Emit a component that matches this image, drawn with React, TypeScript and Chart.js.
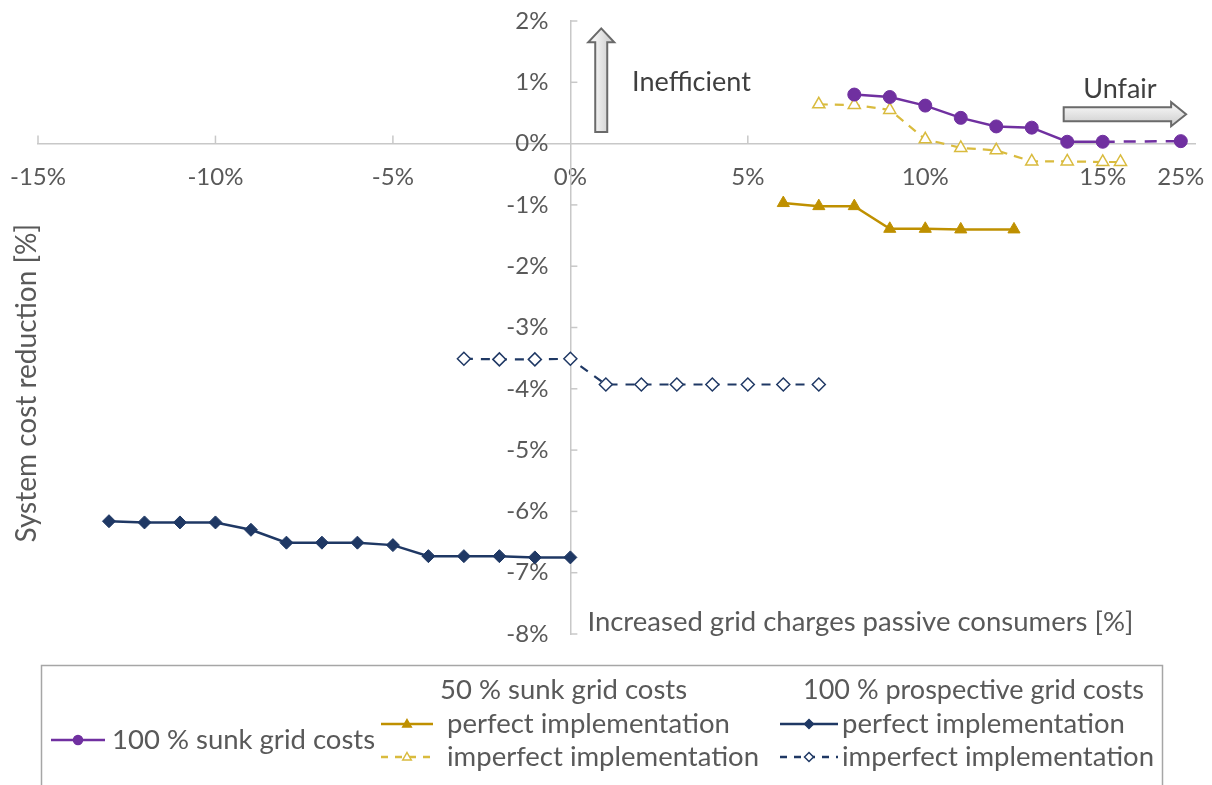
import React, { useEffect, useRef } from 'react';
import { Chart, registerables } from 'chart.js';

Chart.register(...registerables);

const FONT = 'Lato, "Open Sans", sans-serif';
const TEXT = '#595959';

// ---- data ----
const sunkX = [8, 9, 10, 11, 12, 13, 14, 15, 25];
const sunkY = [0.8, 0.76, 0.62, 0.42, 0.28, 0.26, 0.03, 0.03, 0.04];

const halfPerfectX = [6, 7, 8, 9, 10, 11, 12.5];
const halfPerfectY = [-0.97, -1.02, -1.02, -1.39, -1.39, -1.4, -1.4];

const halfImperfectX = [7, 8, 9, 10, 11, 12, 13, 14, 15, 15.5];
const halfImperfectY = [0.64, 0.63, 0.55, 0.07, -0.07, -0.11, -0.29, -0.29, -0.3, -0.3];

const prospPerfectX = [-13, -12, -11, -10, -9, -8, -7, -6, -5, -4, -3, -2, -1, 0];
const prospPerfectY = [-6.16, -6.18, -6.18, -6.18, -6.3, -6.51, -6.51, -6.51, -6.55, -6.73, -6.73, -6.73, -6.75, -6.75];

const prospImperfectX = [-3, -2, -1, 0, 1, 2, 3, 4, 5, 6, 7];
const prospImperfectY = [-3.51, -3.52, -3.52, -3.51, -3.93, -3.93, -3.93, -3.93, -3.93, -3.93, -3.93];

const xTickValues = [-15, -10, -5, 0, 5, 10, 15, 25];
const yMin = -8;
const yMax = 2;

const groupHeaders = ['50 % sunk grid costs', '100 % prospective grid costs'];

// axis break: values above 16 are compressed into the last part of the axis
const BREAK = 16;
const BREAK_FACTOR = 1.2 / 9;
const mapX = (v: number) => (v <= BREAK ? v : BREAK + (v - BREAK) * BREAK_FACTOR);
const X_MIN = -15;
const X_MAX = 17.6;

const PURPLE = '#7030A0';
const GOLD = '#BF9000';
const GOLD_LIGHT = '#D9BB3E';
const NAVY = '#1F3864';

const Y_LABEL_GAP = 22;

const pts = (xs: number[], ys: number[]) => xs.map((x, i) => ({ x: mapX(x), y: ys[i] }));

function drawMarker(ctx: CanvasRenderingContext2D, style: string, x: number, y: number, r: number, fill: string, stroke: string, lw: number) {
  ctx.save();
  ctx.beginPath();
  if (style === 'circle') {
    ctx.arc(x, y, r, 0, Math.PI * 2);
  } else if (style === 'triangle') {
    ctx.moveTo(x, y - r);
    ctx.lineTo(x + r * 0.95, y + r * 0.65);
    ctx.lineTo(x - r * 0.95, y + r * 0.65);
    ctx.closePath();
  } else {
    ctx.moveTo(x, y - r);
    ctx.lineTo(x + r, y);
    ctx.lineTo(x, y + r);
    ctx.lineTo(x - r, y);
    ctx.closePath();
  }
  ctx.fillStyle = fill;
  ctx.fill();
  ctx.setLineDash([]);
  ctx.strokeStyle = stroke;
  ctx.lineWidth = lw;
  ctx.stroke();
  ctx.restore();
}

const zeroPadding = (scale: any) => {
  scale.paddingLeft = 0;
  scale.paddingRight = 0;
  scale.paddingTop = 0;
  scale.paddingBottom = 0;
};

// shift the y tick labels away from the centred axis line
const shifted = new WeakSet<object>();
const yLabelGapPlugin = {
  id: 'yLabelGap',
  beforeDraw(chart: any) {
    const ys = chart.scales.y;
    if (!ys) return;
    const items = ys.getLabelItems(chart.chartArea);
    items.forEach((it: any) => {
      if (shifted.has(it)) return;
      it.options.translation[0] -= Y_LABEL_GAP;
      shifted.add(it);
    });
  },
};

const innerTicksPlugin = {
  id: 'innerTicks',
  beforeDatasetsDraw(chart: any) {
    const { ctx, scales } = chart;
    const xs = scales.x;
    const ys = scales.y;
    const x0 = xs.getPixelForValue(0);
    const y0 = ys.getPixelForValue(0);
    ctx.save();
    ctx.strokeStyle = '#C8C8C8';
    ctx.lineWidth = 1.5;
    xs.ticks.forEach((t: any) => {
      if (Math.abs(t.value) < 1e-9) return;
      const px = xs.getPixelForValue(t.value);
      ctx.beginPath();
      ctx.moveTo(px, y0);
      ctx.lineTo(px, y0 - 8);
      ctx.stroke();
    });
    ys.ticks.forEach((t: any) => {
      if (Math.abs(t.value) < 1e-9) return;
      const py = ys.getPixelForValue(t.value);
      ctx.beginPath();
      ctx.moveTo(x0, py);
      ctx.lineTo(x0 + 7, py);
      ctx.stroke();
    });
    ctx.restore();
  },
};

function arrowPath(ctx: CanvasRenderingContext2D, dir: 'up' | 'right', tipX: number, tipY: number, len: number, headLen: number, headHalf: number, shaftHalf: number) {
  ctx.beginPath();
  if (dir === 'up') {
    ctx.moveTo(tipX, tipY);
    ctx.lineTo(tipX + headHalf, tipY + headLen);
    ctx.lineTo(tipX + shaftHalf, tipY + headLen);
    ctx.lineTo(tipX + shaftHalf, tipY + len);
    ctx.lineTo(tipX - shaftHalf, tipY + len);
    ctx.lineTo(tipX - shaftHalf, tipY + headLen);
    ctx.lineTo(tipX - headHalf, tipY + headLen);
  } else {
    ctx.moveTo(tipX, tipY);
    ctx.lineTo(tipX - headLen, tipY - headHalf);
    ctx.lineTo(tipX - headLen, tipY - shaftHalf);
    ctx.lineTo(tipX - len, tipY - shaftHalf);
    ctx.lineTo(tipX - len, tipY + shaftHalf);
    ctx.lineTo(tipX - headLen, tipY + shaftHalf);
    ctx.lineTo(tipX - headLen, tipY + headHalf);
  }
  ctx.closePath();
}

const annotationsPlugin = {
  id: 'annotations',
  afterDraw(chart: any) {
    const { ctx, scales } = chart;
    const xs = scales.x;
    const ys = scales.y;
    ctx.save();

    // arrows
    ctx.strokeStyle = '#6A6A6A';
    ctx.lineWidth = 2;
    ctx.setLineDash([]);
    const upX = xs.getPixelForValue(0.87);
    const upTop = ys.getPixelForValue(1.88);
    const upBottom = ys.getPixelForValue(0.19);
    const gUp = ctx.createLinearGradient(upX - 6, 0, upX + 6, 0);
    gUp.addColorStop(0, '#F2F2F2');
    gUp.addColorStop(1, '#D6D6D6');
    ctx.fillStyle = gUp;
    arrowPath(ctx, 'up', upX, upTop, upBottom - upTop, 14, 13, 6);
    ctx.fill();
    ctx.stroke();

    const rTip = xs.getPixelForValue(17.35);
    const rStart = xs.getPixelForValue(13.9);
    const rY = ys.getPixelForValue(0.48);
    const gR = ctx.createLinearGradient(0, rY - 7, 0, rY + 7);
    gR.addColorStop(0, '#F2F2F2');
    gR.addColorStop(1, '#D6D6D6');
    ctx.fillStyle = gR;
    arrowPath(ctx, 'right', rTip, rY, rTip - rStart, 15, 12, 7);
    ctx.fill();
    ctx.stroke();

    // annotation texts
    ctx.fillStyle = '#3F3F3F';
    ctx.font = `27px ${FONT}`;
    ctx.textAlign = 'left';
    ctx.textBaseline = 'alphabetic';
    ctx.fillText('Inefficient', xs.getPixelForValue(1.74), ys.getPixelForValue(0.86));
    ctx.fillText('Unfair', xs.getPixelForValue(14.45), ys.getPixelForValue(0.74));

    // axis titles
    ctx.fillStyle = TEXT;
    ctx.font = `27.5px ${FONT}`;
    ctx.textBaseline = 'middle';
    ctx.fillText('Increased grid charges passive consumers [%]', xs.getPixelForValue(0.48), ys.getPixelForValue(-7.8));
    ctx.save();
    ctx.translate(27, ys.getPixelForValue(-3.91));
    ctx.rotate(-Math.PI / 2);
    ctx.font = `28px ${FONT}`;
    ctx.textAlign = 'center';
    ctx.textBaseline = 'middle';
    ctx.fillText('System cost reduction [%]', 0, 0);
    ctx.restore();

    // legend box
    ctx.strokeStyle = '#A6A6A6';
    ctx.lineWidth = 1.5;
    ctx.strokeRect(41.5, 665.5, 1121, 160);

    const legendFont = `27.5px ${FONT}`;
    ctx.font = legendFont;
    ctx.fillStyle = TEXT;
    ctx.textBaseline = 'middle';
    ctx.textAlign = 'left';
    ctx.fillText(groupHeaders[0], 440, 690);
    ctx.font = `27px ${FONT}`;
    ctx.fillText(groupHeaders[1], 803, 690);

    const items = [
      { ds: 0, x1: 51, x2: 105, tx: 112, y: 740 },
      { ds: 1, x1: 381, x2: 433, tx: 447, y: 724 },
      { ds: 2, x1: 381, x2: 433, tx: 447, y: 757 },
      { ds: 3, x1: 780, x2: 838, tx: 842, y: 724 },
      { ds: 4, x1: 780, x2: 838, tx: 842, y: 757 },
    ];
    items.forEach((it) => {
      const d = chart.data.datasets[it.ds];
      ctx.save();
      ctx.strokeStyle = d.borderColor;
      ctx.lineWidth = 2.5;
      ctx.setLineDash(d.borderDash && d.borderDash.length ? [7, 7] : []);
      ctx.beginPath();
      ctx.moveTo(it.x1, it.y);
      ctx.lineTo(it.x2, it.y);
      ctx.stroke();
      ctx.restore();
      drawMarker(ctx, d.pointStyle, (it.x1 + it.x2) / 2, it.y, 4.5, d.pointBackgroundColor, d.pointBorderColor, 1.5);
      ctx.fillStyle = TEXT;
      ctx.font = legendFont;
      ctx.fillText(d.label, it.tx, it.y);
    });

    ctx.restore();
  },
};

export default function App() {
  const ref = useRef<HTMLCanvasElement | null>(null);

  useEffect(() => {
    if (!ref.current) return;
    Chart.defaults.font.family = FONT;
    const lastSunk = sunkX.length - 1;
    const chart = new Chart(ref.current, {
      type: 'line',
      data: {
        datasets: [
          {
            label: '100 % sunk grid costs',
            data: pts(sunkX, sunkY),
            borderColor: PURPLE,
            backgroundColor: PURPLE,
            borderWidth: 2.5,
            pointStyle: 'circle',
            pointRadius: 6.5,
            pointBackgroundColor: PURPLE,
            pointBorderColor: PURPLE,
            pointBorderWidth: 1,
            borderDash: [],
            segment: {
              borderDash: (c: any) => (c.p1DataIndex === lastSunk ? [12, 9] : undefined),
            },
          } as any,
          {
            label: 'perfect implementation',
            data: pts(halfPerfectX, halfPerfectY),
            borderColor: GOLD,
            backgroundColor: GOLD,
            borderWidth: 2.5,
            pointStyle: 'triangle',
            pointRadius: 7,
            pointBackgroundColor: GOLD,
            pointBorderColor: GOLD,
            pointBorderWidth: 1,
            borderDash: [],
          },
          {
            label: 'imperfect implementation',
            data: pts(halfImperfectX, halfImperfectY),
            borderColor: GOLD_LIGHT,
            backgroundColor: '#FFFFFF',
            borderWidth: 2.2,
            pointStyle: 'triangle',
            pointRadius: 7,
            pointBackgroundColor: '#FFFFFF',
            pointBorderColor: GOLD_LIGHT,
            pointBorderWidth: 1.5,
            borderDash: [9, 7],
          },
          {
            label: 'perfect implementation',
            data: pts(prospPerfectX, prospPerfectY),
            borderColor: NAVY,
            backgroundColor: NAVY,
            borderWidth: 2.5,
            pointStyle: 'rectRot',
            pointRadius: 6.5,
            pointBackgroundColor: NAVY,
            pointBorderColor: NAVY,
            pointBorderWidth: 1,
            borderDash: [],
          },
          {
            label: 'imperfect implementation',
            data: pts(prospImperfectX, prospImperfectY),
            borderColor: NAVY,
            backgroundColor: '#FFFFFF',
            borderWidth: 2.2,
            pointStyle: 'rectRot',
            pointRadius: 6.5,
            pointBackgroundColor: '#FFFFFF',
            pointBorderColor: NAVY,
            pointBorderWidth: 1.5,
            borderDash: [9, 8],
          },
        ],
      },
      options: {
        responsive: false,
        animation: false,
        devicePixelRatio: 1,
        layout: { padding: { left: 38, right: 17, top: 21, bottom: 151 } },
        elements: { line: { tension: 0 } },
        plugins: {
          legend: { display: false },
          tooltip: { enabled: false },
        },
        scales: {
          x: {
            type: 'linear',
            min: X_MIN,
            max: X_MAX,
            position: { y: 0 } as any,
            grid: { display: false, drawTicks: false },
            border: { display: true, color: '#C8C8C8', width: 1.5 },
            afterBuildTicks: (scale: any) => {
              scale.ticks = xTickValues.map((v) => ({ value: mapX(v) }));
            },
            afterFit: zeroPadding,
            ticks: {
              autoSkip: false,
              maxRotation: 0,
              padding: 19,
              color: TEXT,
              font: { size: 24, family: FONT },
              callback: (_v: any, i: number) => `${xTickValues[i]}%`,
            },
          },
          y: {
            type: 'linear',
            min: yMin,
            max: yMax,
            position: { x: 0 } as any,
            grid: { display: false, drawTicks: false },
            border: { display: true, color: '#C8C8C8', width: 1.5 },
            afterFit: zeroPadding,
            ticks: {
              stepSize: 1,
              padding: 0,
              color: TEXT,
              font: { size: 24, family: FONT },
              callback: (v: any) => `${v}%`,
            },
          },
        },
      },
      plugins: [yLabelGapPlugin, innerTicksPlugin, annotationsPlugin],
    });
    return () => chart.destroy();
  }, []);

  return (
    <div style={{ position: 'absolute', left: 0, top: 0, width: 1212, height: 785, background: '#FFFFFF' }}>
      <canvas ref={ref} width={1212} height={785} />
    </div>
  );
}
